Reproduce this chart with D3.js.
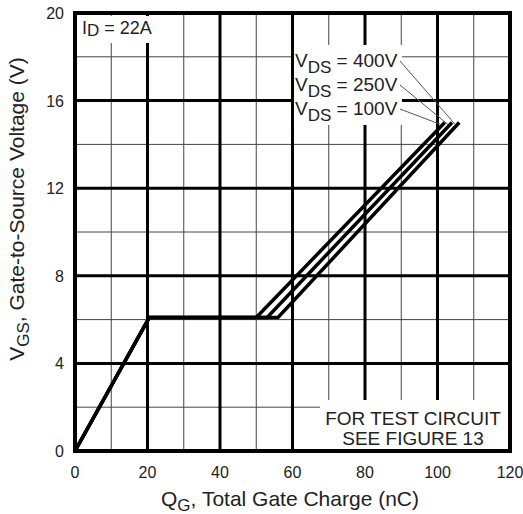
<!DOCTYPE html>
<html>
<head>
<meta charset="utf-8">
<script src="https://cdn.jsdelivr.net/npm/d3@7"></script>
<style>
  body { margin: 0; background: #fff; }
  svg text { font-family: "Liberation Sans", Arial, sans-serif; fill: #222; }
</style>
</head>
<body>
<svg id="chart" width="523" height="514"></svg>
<script>
// gate charge curves, Qg (nC) vs Vgs (V)
var series = ["100V", "250V", "400V"];
var curve100 = [[0, 0], [20.5, 6.1], [50, 6.1], [102, 15]];
var curve250 = [[0, 0], [20.5, 6.1], [53, 6.1], [104, 15]];
var curve400 = [[0, 0], [20.5, 6.1], [56, 6.1], [106, 15]];
var xTicks = [0, 20, 40, 60, 80, 100, 120];
var yTicks = [0, 4, 8, 12, 16, 20];
var xMinor = [10, 30, 50, 70, 90, 110];
var yMinor = [2, 6, 10, 14, 18];

var svg = d3.select("#chart");
// plot box (don't call these top/left, window.top is reserved)
var pL = 75, pR = 510, pT = 13, pB = 451;

var x = d3.scaleLinear().domain([0, 120]).range([pL, pR]);
var y = d3.scaleLinear().domain([0, 20]).range([pB, pT]);

// grid
svg.append("g").selectAll("line").data(xMinor).enter().append("line")
  .attr("x1", function(d){ return x(d); }).attr("x2", function(d){ return x(d); })
  .attr("y1", pT).attr("y2", pB)
  .attr("stroke", "#444").attr("stroke-width", 1);
svg.append("g").selectAll("line").data(yMinor).enter().append("line")
  .attr("y1", function(d){ return y(d); }).attr("y2", function(d){ return y(d); })
  .attr("x1", pL).attr("x2", pR)
  .attr("stroke", "#444").attr("stroke-width", 1);
svg.append("g").selectAll("line").data(xTicks.slice(1, -1)).enter().append("line")
  .attr("x1", function(d){ return x(d); }).attr("x2", function(d){ return x(d); })
  .attr("y1", pT).attr("y2", pB)
  .attr("stroke", "#000").attr("stroke-width", 3);
svg.append("g").selectAll("line").data(yTicks.slice(1, -1)).enter().append("line")
  .attr("y1", function(d){ return y(d); }).attr("y2", function(d){ return y(d); })
  .attr("x1", pL).attr("x2", pR)
  .attr("stroke", "#000").attr("stroke-width", 3);

// white label boxes over the grid
svg.append("rect").attr("x", 79).attr("y", 16).attr("width", 80).attr("height", 27).attr("fill", "#fff");
svg.append("rect").attr("x", 294).attr("y", 45).attr("width", 108).attr("height", 80).attr("fill", "#fff");
svg.append("rect").attr("x", 320).attr("y", 400).attr("width", 188).attr("height", 50).attr("fill", "#fff");

// curves
var line = d3.line().x(function(d){ return x(d[0]); }).y(function(d){ return y(d[1]); });
var curves = [curve100, curve250, curve400];
svg.append("g").selectAll("path").data(curves).enter().append("path")
  .attr("d", line)
  .attr("fill", "none").attr("stroke", "#000").attr("stroke-width", 3.5)
  .attr("stroke-linejoin", "miter");

// border
svg.append("rect").attr("x", pL).attr("y", pT)
  .attr("width", pR - pL).attr("height", pB - pT)
  .attr("fill", "none").attr("stroke", "#000").attr("stroke-width", 4);

// tick labels
svg.append("g").selectAll("text").data(xTicks).enter().append("text")
  .attr("x", function(d){ return x(d); }).attr("y", 478)
  .attr("text-anchor", "middle").attr("font-size", 16)
  .text(function(d){ return d; });
svg.append("g").selectAll("text").data(yTicks).enter().append("text")
  .attr("x", 64).attr("y", function(d){ return y(d) + 6; })
  .attr("text-anchor", "end").attr("font-size", 16)
  .text(function(d){ return d; });

// axis titles
var xt = svg.append("text").attr("x", 290).attr("y", 506)
  .attr("text-anchor", "middle").attr("font-size", 21);
xt.append("tspan").text("Q");
xt.append("tspan").attr("dy", 5).attr("font-size", 17).text("G");
xt.append("tspan").attr("dy", -5).text(", Total Gate Charge (nC)");

var yt = svg.append("text").attr("transform", "translate(24,209) rotate(-90)")
  .attr("text-anchor", "middle").attr("font-size", 21);
yt.append("tspan").text("V");
yt.append("tspan").attr("dy", 5).attr("font-size", 17).text("GS");
yt.append("tspan").attr("dy", -5).text(", Gate-to-Source Voltage (V)");

// I_D label
var id = svg.append("text").attr("x", 82).attr("y", 34).attr("font-size", 18);
id.append("tspan").text("I");
id.append("tspan").attr("dy", 2).attr("font-size", 17).text("D");
id.append("tspan").attr("dy", -2).text(" = 22A");

// V_DS labels with leaders
var labelY = { "400V": 67, "250V": 91, "100V": 115 };
var ends = { "100V": curve100[3], "250V": curve250[3], "400V": curve400[3] };
series.forEach(function(s){
  var t = svg.append("text").attr("x", 295).attr("y", labelY[s]).attr("font-size", 19);
  t.append("tspan").text("V");
  t.append("tspan").attr("dy", 6).attr("font-size", 17).text("DS");
  t.append("tspan").attr("dy", -6).text(" = " + s);
  var e = ends[s];
  svg.append("line")
    .attr("x1", 400).attr("y1", labelY[s] - 6)
    .attr("x2", x(e[0]) - 4).attr("y2", y(e[1]) + 2)
    .attr("stroke", "#555").attr("stroke-width", 1);
});

// test circuit note
svg.append("text").attr("x", 413).attr("y", 425).attr("text-anchor", "middle")
  .attr("font-size", 19).text("FOR TEST CIRCUIT");
svg.append("text").attr("x", 413).attr("y", 445).attr("text-anchor", "middle")
  .attr("font-size", 19).text("SEE FIGURE 13");
</script>
</body>
</html>
